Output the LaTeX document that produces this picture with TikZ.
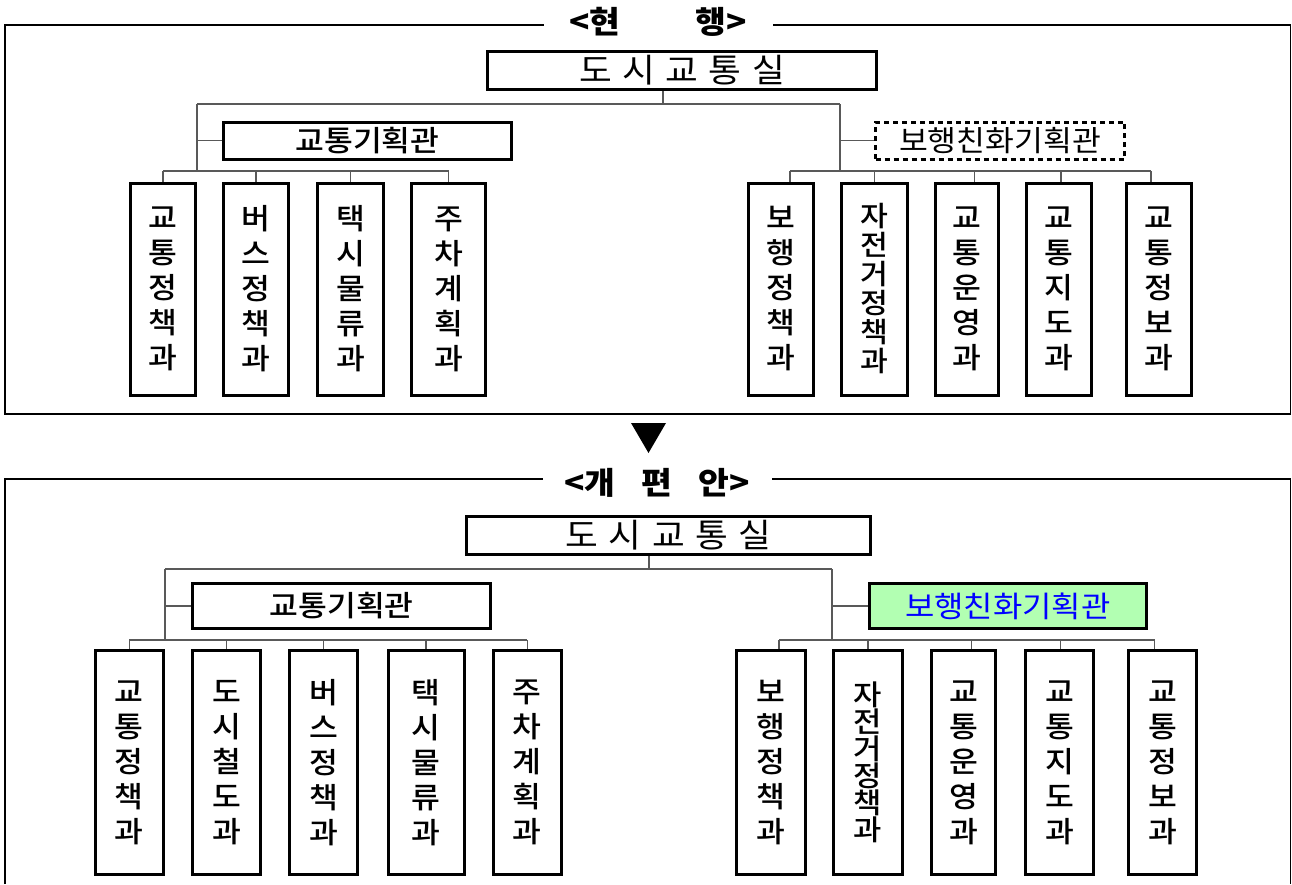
\documentclass[tikz,border=0pt]{standalone}
\usepackage{fontspec}
\newfontfamily\kr[FakeStretch=1.08]{Noto Sans CJK KR}
\newfontfamily\krm[FakeStretch=1.08]{Noto Sans CJK KR Medium}
\definecolor{pedgreen}{RGB}{178,255,178}
\definecolor{pedblue}{RGB}{0,0,255}
\newcommand{\chsp}{\hspace{10.5pt}}
\begin{document}
\begin{tikzpicture}[x=1pt,y=-1pt,
  box/.style={draw, line width=3pt, inner sep=0pt, align=center, font=\krm\fontsize{29}{35}\selectfont},
  chief/.style={box, font=\kr\fontsize{33}{35}\selectfont},
  vsix/.style={font=\krm\fontsize{28}{29}\selectfont},
  vsixb/.style={font=\krm\fontsize{28.5}{27}\selectfont},
  dashbox/.style={box, dash pattern=on 5pt off 4pt, font=\kr\fontsize{29}{35}\selectfont},
  greenbox/.style={box, fill=pedgreen, text=pedblue, font=\kr\fontsize{29.5}{35}\selectfont},
  conn/.style={line width=1.2pt, draw=black!65},
  frame/.style={line width=1.3pt},
  title/.style={fill=white, inner sep=0pt, minimum width=229pt, minimum height=20pt, font=\kr\bfseries\fontsize{31}{35}\selectfont}]
\useasboundingbox (0,0) rectangle (1292,884);

% ---------- top frame ----------
\draw[frame] (5,25) rectangle (1290.5,414);
\node[title] (ttitle) at (658,22) {<현\hspace{75pt}행>};

\node[chief, minimum width=389pt, minimum height=38pt] (tchief) at (682,70.5) {도\chsp 시\chsp 교\chsp 통\chsp 실};
\node[box, minimum width=288pt, minimum height=37pt] (tplan) at (367.5,140.5) {교통기획관};
\node[dashbox, minimum width=249pt, minimum height=37pt] (tped) at (1000,140.5) {보행친화기획관};

\node[box, minimum width=65pt, minimum height=212pt] (ta1) at (163,289) {교\\통\\정\\책\\과};
\node[box, minimum width=65pt, minimum height=212pt] (ta2) at (256,289) {버\\스\\정\\책\\과};
\node[box, minimum width=66pt, minimum height=212pt] (ta3) at (350.5,289) {택\\시\\물\\류\\과};
\node[box, minimum width=74pt, minimum height=212pt] (ta4) at (448.5,289) {주\\차\\계\\획\\과};

\node[box, minimum width=65pt, minimum height=212pt] (tb1) at (781,289) {보\\행\\정\\책\\과};
\node[box, vsix, minimum width=66pt, minimum height=212pt] (tb2) at (874.5,289) {자\\전\\거\\정\\책\\과};
\node[box, minimum width=63pt, minimum height=212pt] (tb3) at (966.6,289) {교\\통\\운\\영\\과};
\node[box, minimum width=65pt, minimum height=212pt] (tb4) at (1059,289) {교\\통\\지\\도\\과};
\node[box, minimum width=65pt, minimum height=212pt] (tb5) at (1159,289) {교\\통\\정\\보\\과};

\coordinate (tj) at (663,104);
\coordinate (tL) at (197,104);
\coordinate (tR) at (840,104);
\coordinate (tLb) at (197,171);
\coordinate (tRb) at (840,171);

\draw[conn] (tchief.south -| tj) -- (tj);
\draw[conn] (tL) -- (tR);
\draw[conn] (tL) -- (tLb);
\draw[conn] (tR) -- (tRb);
\draw[conn] (tplan.west) -- (tplan.west -| tL);
\draw[conn] (tped.west) -- (tped.west -| tR);
\draw[conn] (ta1.north |- tLb) -- (ta4.north |- tLb);
\foreach \n in {ta1,ta2,ta3,ta4} \draw[conn] (\n.north) -- (\n.north |- tLb);
\draw[conn] ([xshift=9pt]tb1.north |- tRb) -- ([xshift=-8pt]tb5.north |- tRb);
\draw[conn] ([xshift=9pt]tb1.north) -- ([xshift=9pt]tb1.north |- tRb);
\draw[conn] (tb2.north) -- (tb2.north |- tRb);
\draw[conn] ([xshift=8pt]tb3.north) -- ([xshift=8pt]tb3.north |- tRb);
\draw[conn] ([xshift=2pt]tb4.north) -- ([xshift=2pt]tb4.north |- tRb);
\draw[conn] ([xshift=-8pt]tb5.north) -- ([xshift=-8pt]tb5.north |- tRb);

% ---------- arrow ----------
\fill (631,423) -- (666,423) -- (648.5,453) -- cycle;

% ---------- bottom frame ----------
\draw[frame] (5,884) -- (5,479) -- (1290.5,479) -- (1290.5,884);
\node[title] (btitle) at (657,483) {<개\hspace{26pt}편\hspace{26pt}안>};

\node[chief, minimum width=404pt, minimum height=38pt] (bchief) at (668.5,535.5) {도\chsp 시\chsp 교\chsp 통\chsp 실};
\node[box, minimum width=298pt, minimum height=45pt] (bplan) at (341.75,606) {교통기획관};
\node[greenbox, minimum width=277pt, minimum height=45pt] (bped) at (1007.75,606) {보행친화기획관};

\node[box, minimum width=68pt, minimum height=224pt] (ba1) at (129.2,762.5) {교\\통\\정\\책\\과};
\node[box, minimum width=68pt, minimum height=224pt] (ba2) at (226.5,762.5) {도\\시\\철\\도\\과};
\node[box, minimum width=68pt, minimum height=224pt] (ba3) at (323.5,762.5) {버\\스\\정\\책\\과};
\node[box, minimum width=76pt, minimum height=224pt] (ba4) at (426,762.5) {택\\시\\물\\류\\과};
\node[box, minimum width=68pt, minimum height=224pt] (ba5) at (527.3,762.5) {주\\차\\계\\획\\과};

\node[box, minimum width=69pt, minimum height=224pt] (bb1) at (771,762.5) {보\\행\\정\\책\\과};
\node[box, vsixb, minimum width=69pt, minimum height=224pt] (bb2) at (868,762.5) {자\\전\\거\\정\\책\\과};
\node[box, minimum width=64pt, minimum height=224pt] (bb3) at (963.8,762.5) {교\\통\\운\\영\\과};
\node[box, minimum width=68pt, minimum height=224pt] (bb4) at (1059.5,762.5) {교\\통\\지\\도\\과};
\node[box, minimum width=68pt, minimum height=224pt] (bb5) at (1162.5,762.5) {교\\통\\정\\보\\과};

\coordinate (bj) at (649,569);
\coordinate (bL) at (165,569);
\coordinate (bR) at (832,569);
\coordinate (bLb) at (165,640);
\coordinate (bRb) at (832,640);

\draw[conn] (bchief.south -| bj) -- (bj);
\draw[conn] (bL) -- (bR);
\draw[conn] (bL) -- (bLb);
\draw[conn] (bR) -- (bRb);
\draw[conn] (bplan.west) -- (bplan.west -| bL);
\draw[conn] (bped.west) -- (bped.west -| bR);
\draw[conn] (ba1.north |- bLb) -- (ba5.north |- bLb);
\foreach \n in {ba1,ba2,ba3,ba4,ba5} \draw[conn] (\n.north) -- (\n.north |- bLb);
\draw[conn] ([xshift=8pt]bb1.north |- bRb) -- ([xshift=-8pt]bb5.north |- bRb);
\draw[conn] ([xshift=8pt]bb1.north) -- ([xshift=8pt]bb1.north |- bRb);
\draw[conn] (bb2.north) -- (bb2.north |- bRb);
\draw[conn] ([xshift=8pt]bb3.north) -- ([xshift=8pt]bb3.north |- bRb);
\draw[conn] ([xshift=1pt]bb4.north) -- ([xshift=1pt]bb4.north |- bRb);
\draw[conn] ([xshift=-8pt]bb5.north) -- ([xshift=-8pt]bb5.north |- bRb);
\end{tikzpicture}
\end{document}
